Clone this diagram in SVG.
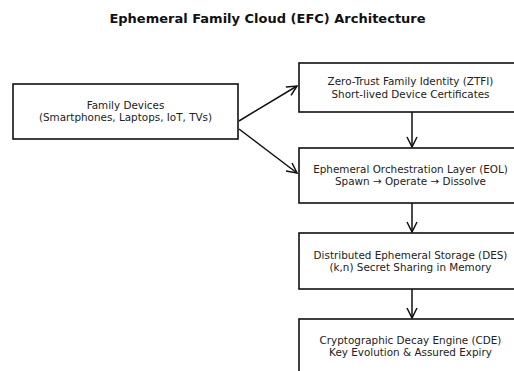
<svg xmlns="http://www.w3.org/2000/svg" width="514" height="371" viewBox="0 0 514 371">
<defs>
<marker id="arr" viewBox="0 0 12 12" refX="11" refY="6" markerWidth="12" markerHeight="12" markerUnits="userSpaceOnUse" orient="auto">
<path d="M1,1 L11,6 L1,11" fill="none" stroke="#111" stroke-width="1.5"/>
</marker>
<style>
.box{fill:#fff;stroke:#111;stroke-width:1.6}
.t{font-family:"DejaVu Sans",sans-serif;font-size:10.4px;fill:#222;text-anchor:middle}
.title{font-family:"DejaVu Sans",sans-serif;font-size:13px;font-weight:bold;fill:#111;text-anchor:middle}
.c{stroke:#111;stroke-width:1.5;fill:none;marker-end:url(#arr)}
</style>
</defs>
<rect width="514" height="371" fill="#fff"/>
<text class="title" x="267.5" y="23">Ephemeral Family Cloud (EFC) Architecture</text>
<g id="connectors">
<line class="c" x1="239" y1="121" x2="297" y2="86"/>
<line class="c" x1="239" y1="129" x2="297" y2="173"/>
<line class="c" x1="412" y1="112" x2="412" y2="147"/>
<line class="c" x1="412" y1="203" x2="412" y2="232"/>
<line class="c" x1="412" y1="289" x2="412" y2="318"/>
</g>
<g id="family">
<rect class="box" x="13" y="84" width="225" height="55"/>
<text class="t" x="125.5" y="109.1">Family Devices</text>
<text class="t" x="125.5" y="121.4">(Smartphones, Laptops, IoT, TVs)</text>
</g>
<g id="ztfi">
<rect class="box" x="299" y="63" width="224" height="49"/>
<text class="t" x="410.5" y="85.2">Zero-Trust Family Identity (ZTFI)</text>
<text class="t" x="410.5" y="97.5">Short-lived Device Certificates</text>
</g>
<g id="eol">
<rect class="box" x="299" y="148" width="224" height="55"/>
<text class="t" x="410.5" y="173.1">Ephemeral Orchestration Layer (EOL)</text>
<text class="t" x="410.5" y="185.4">Spawn → Operate → Dissolve</text>
</g>
<g id="des">
<rect class="box" x="299" y="233" width="224" height="56"/>
<text class="t" x="410.5" y="258.6">Distributed Ephemeral Storage (DES)</text>
<text class="t" x="410.5" y="270.9">(k,n) Secret Sharing in Memory</text>
</g>
<g id="cde">
<rect class="box" x="299" y="319" width="224" height="60"/>
<text class="t" x="410.5" y="343.8">Cryptographic Decay Engine (CDE)</text>
<text class="t" x="410.5" y="356.1">Key Evolution &amp; Assured Expiry</text>
</g>
</svg>
